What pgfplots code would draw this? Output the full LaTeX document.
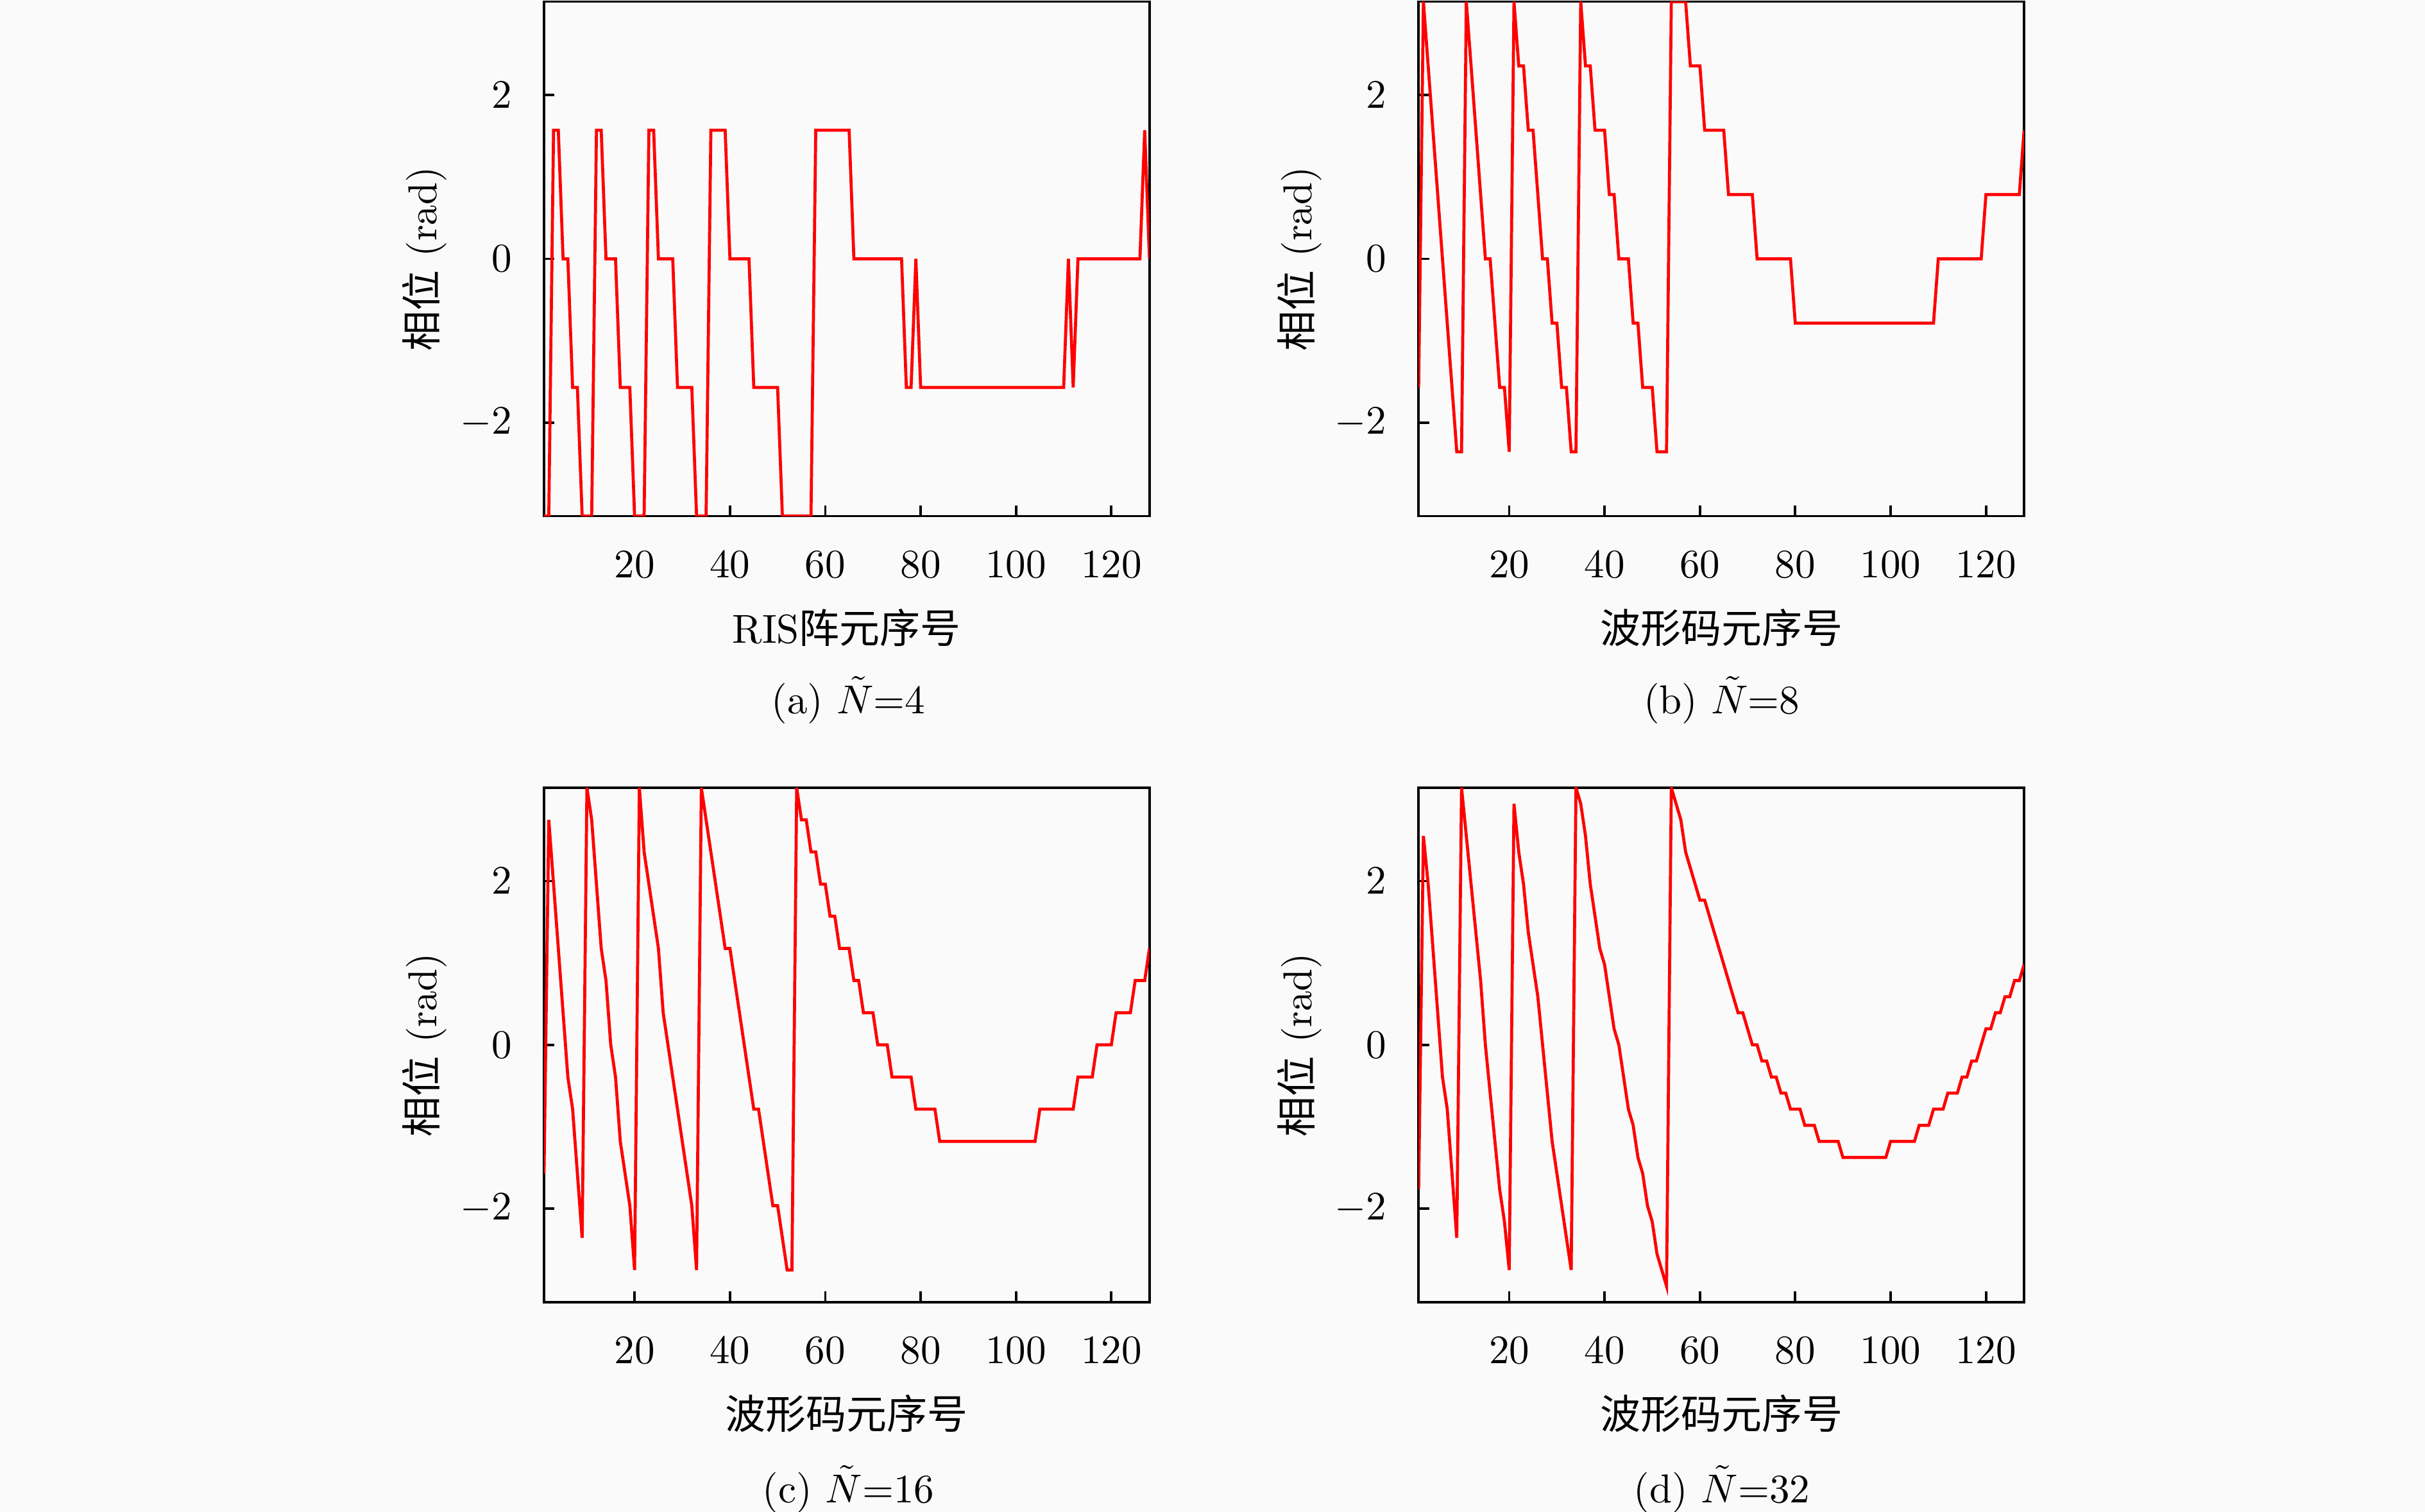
\documentclass[border=0pt]{standalone}
\usepackage{fontspec}
\newfontfamily\cjk{Noto Sans CJK SC}
\usepackage{pgfplots}
\pgfplotsset{compat=1.18}
\definecolor{bg}{RGB}{250,250,250}
\pgfplotsset{myaxis/.style={
  width=149.8pt, height=127.3pt, scale only axis, anchor=south west,
  xmin=1, xmax=128, ymin=-3.14159, ymax=3.14159,
  xtick={20,40,60,80,100,120}, ytick={-2,0,2},
  xtick pos=left, ytick pos=left, tick align=inside,
  major tick length=2.6pt,
  axis line style={line width=0.6pt},
  every tick/.style={black, line width=0.6pt},
  xticklabel style={yshift=-5.2pt},
  yticklabel style={xshift=-4.4pt},
  clip=true,
}}
\begin{document}
\begin{tikzpicture}[lab/.style={inner sep=0pt, outer sep=0pt}]
\fill[bg] (0pt,0pt) rectangle (600pt,374.1pt);
\path[use as bounding box] (0pt,0pt) rectangle (600pt,374.1pt);

% (a) N=4
\begin{axis}[myaxis, at={(134.6pt,246.4pt)}]
\addplot[red, line width=0.75pt] coordinates {
(1,-3.1416)(2,-3.1416)(3,1.5708)(4,1.5708)(5,0)(6,0)(7,-1.5708)(8,-1.5708)
(9,-3.1416)(10,-3.1416)(11,-3.1416)(12,1.5708)(13,1.5708)(14,0)(15,0)(16,0)
(17,-1.5708)(18,-1.5708)(19,-1.5708)(20,-3.1416)(21,-3.1416)(22,-3.1416)
(23,1.5708)(24,1.5708)(25,0)(26,0)(27,0)(28,0)(29,-1.5708)(30,-1.5708)(31,-1.5708)(32,-1.5708)
(33,-3.1416)(34,-3.1416)(35,-3.1416)(36,1.5708)(37,1.5708)(38,1.5708)(39,1.5708)
(40,0)(41,0)(42,0)(43,0)(44,0)(45,-1.5708)(46,-1.5708)(47,-1.5708)(48,-1.5708)(49,-1.5708)(50,-1.5708)
(51,-3.1416)(52,-3.1416)(53,-3.1416)(54,-3.1416)(55,-3.1416)(56,-3.1416)(57,-3.1416)
(58,1.5708)(59,1.5708)(60,1.5708)(61,1.5708)(62,1.5708)(63,1.5708)(64,1.5708)(65,1.5708)
(66,0)(70,0)(76,0)(77,-1.5708)(78,-1.5708)(79,0)(80,-1.5708)(90,-1.5708)(100,-1.5708)(110,-1.5708)
(111,0)(112,-1.5708)(113,0)(120,0)(126,0)(127,1.5708)(128,0)
};
\end{axis}

% (b) N=8
\begin{axis}[myaxis, at={(351.0pt,246.4pt)}]
\addplot[red, line width=0.75pt] coordinates {
(1,-1.5708)(2,3.1416)(3,2.3562)(4,1.5708)(5,0.7854)(6,0)(7,-0.7854)(8,-1.5708)(9,-2.3562)(10,-2.3562)
(11,3.1416)(12,2.3562)(13,1.5708)(14,0.7854)(15,0)(16,0)(17,-0.7854)(18,-1.5708)(19,-1.5708)(20,-2.3562)
(21,3.1416)(22,2.3562)(23,2.3562)(24,1.5708)(25,1.5708)(26,0.7854)(27,0)(28,0)(29,-0.7854)(30,-0.7854)
(31,-1.5708)(32,-1.5708)(33,-2.3562)(34,-2.3562)(35,3.1416)(36,2.3562)(37,2.3562)(38,1.5708)(39,1.5708)(40,1.5708)
(41,0.7854)(42,0.7854)(43,0)(44,0)(45,0)(46,-0.7854)(47,-0.7854)(48,-1.5708)(49,-1.5708)(50,-1.5708)
(51,-2.3562)(52,-2.3562)(53,-2.3562)(54,3.1416)(55,3.1416)(56,3.1416)(57,3.1416)
(58,2.3562)(59,2.3562)(60,2.3562)(61,1.5708)(63,1.5708)(65,1.5708)(66,0.7854)(71,0.7854)
(72,0)(79,0)(80,-0.7854)(95,-0.7854)(109,-0.7854)(110,0)(119,0)(120,0.7854)(127,0.7854)(128,1.5708)
};
\end{axis}

% (c) N=16
\begin{axis}[myaxis, at={(134.6pt,51.9pt)}]
\addplot[red, line width=0.75pt] coordinates {
(1,-1.5708)(2,2.7489)(3,1.9635)(4,1.1781)(5,0.3927)(6,-0.3927)(7,-0.7854)(8,-1.5708)(9,-2.3562)
(10,3.1416)(11,2.7489)(12,1.9635)(13,1.1781)(14,0.7854)(15,0)(16,-0.3927)(17,-1.1781)(18,-1.5708)(19,-1.9635)(20,-2.7489)
(21,3.1416)(22,2.3562)(23,1.9635)(24,1.5708)(25,1.1781)(26,0.3927)(27,0)(28,-0.3927)(29,-0.7854)(30,-1.1781)
(31,-1.5708)(32,-1.9635)(33,-2.7489)(34,3.1416)(35,2.7489)(36,2.3562)(37,1.9635)(38,1.5708)(39,1.1781)(40,1.1781)
(41,0.7854)(42,0.3927)(43,0)(44,-0.3927)(45,-0.7854)(46,-0.7854)(47,-1.1781)(48,-1.5708)(49,-1.9635)(50,-1.9635)
(51,-2.3562)(52,-2.7489)(53,-2.7489)(54,3.1416)(55,2.7489)(56,2.7489)(57,2.3562)(58,2.3562)(59,1.9635)(60,1.9635)
(61,1.5708)(62,1.5708)(63,1.1781)(64,1.1781)(65,1.1781)(66,0.7854)(67,0.7854)(68,0.3927)(69,0.3927)(70,0.3927)
(71,0)(72,0)(73,0)(74,-0.3927)(78,-0.3927)(79,-0.7854)(83,-0.7854)(84,-1.1781)(94,-1.1781)(104,-1.1781)
(105,-0.7854)(112,-0.7854)(113,-0.3927)(116,-0.3927)(117,0)(120,0)(121,0.3927)(124,0.3927)
(125,0.7854)(127,0.7854)(128,1.1781)
};
\end{axis}

% (d) N=32
\begin{axis}[myaxis, at={(351.0pt,51.9pt)}]
\addplot[red, line width=0.75pt] coordinates {
(1,-1.7671)(2,2.5525)(3,1.9635)(4,1.1781)(5,0.3927)(6,-0.3927)(7,-0.7854)(8,-1.5708)(9,-2.3562)
(10,3.1416)(11,2.5525)(12,1.9635)(13,1.3744)(14,0.7854)(15,0)(16,-0.5890)(17,-1.1781)(18,-1.7671)(19,-2.1598)(20,-2.7489)
(21,2.9452)(22,2.3562)(23,1.9635)(24,1.3744)(25,0.9817)(26,0.5890)(27,0)(28,-0.5890)(29,-1.1781)(30,-1.5708)
(31,-1.9635)(32,-2.3562)(33,-2.7489)(34,3.1416)(35,2.9452)(36,2.5525)(37,1.9635)(38,1.5708)(39,1.1781)(40,0.9817)
(41,0.5890)(42,0.1963)(43,0)(44,-0.3927)(45,-0.7854)(46,-0.9817)(47,-1.3744)(48,-1.5708)(49,-1.9635)(50,-2.1598)
(51,-2.5525)(52,-2.7489)(53,-2.9452)(54,3.1416)(55,2.9452)(56,2.7489)(57,2.3562)(58,2.1598)(59,1.9635)(60,1.7671)
(61,1.7671)(62,1.5708)(63,1.3744)(64,1.1781)(65,0.9817)(66,0.7854)(67,0.5890)(68,0.3927)(69,0.3927)(70,0.1963)
(71,0)(72,0)(73,-0.1963)(74,-0.1963)(75,-0.3927)(76,-0.3927)(77,-0.5890)(78,-0.5890)(79,-0.7854)(80,-0.7854)
(81,-0.7854)(82,-0.9817)(83,-0.9817)(84,-0.9817)(85,-1.1781)(86,-1.1781)(87,-1.1781)(88,-1.1781)(89,-1.1781)
(90,-1.3744)(95,-1.3744)(99,-1.3744)(100,-1.1781)(105,-1.1781)(106,-0.9817)(108,-0.9817)(109,-0.7854)(111,-0.7854)
(112,-0.5890)(114,-0.5890)(115,-0.3927)(116,-0.3927)(117,-0.1963)(118,-0.1963)(119,0)(120,0.1963)(121,0.1963)
(122,0.3927)(123,0.3927)(124,0.5890)(125,0.5890)(126,0.7854)(127,0.7854)(128,0.9817)
};
\end{axis}

% labels
\node[lab, rotate=90] at (105.1pt,310.0pt) {{\cjk 相位} (rad)};
\node[lab, rotate=90] at (321.5pt,310.0pt) {{\cjk 相位} (rad)};
\node[lab, rotate=90] at (105.1pt,115.5pt) {{\cjk 相位} (rad)};
\node[lab, rotate=90] at (321.5pt,115.5pt) {{\cjk 相位} (rad)};

\node[lab] at (209.5pt,218.8pt) {RIS{\cjk 阵元序号}};
\node[lab] at (426.0pt,218.8pt) {{\cjk 波形码元序号}};
\node[lab] at (209.5pt,24.3pt) {{\cjk 波形码元序号}};
\node[lab] at (426.0pt,24.3pt) {{\cjk 波形码元序号}};

\node[lab] at (209.9pt,200.9pt) {(a) $\tilde{N}$=4};
\node[lab] at (426.0pt,200.9pt) {(b) $\tilde{N}$=8};
\node[lab] at (209.9pt,5.7pt) {(c) $\tilde{N}$=16};
\node[lab] at (426.0pt,5.7pt) {(d) $\tilde{N}$=32};
\end{tikzpicture}
\end{document}
